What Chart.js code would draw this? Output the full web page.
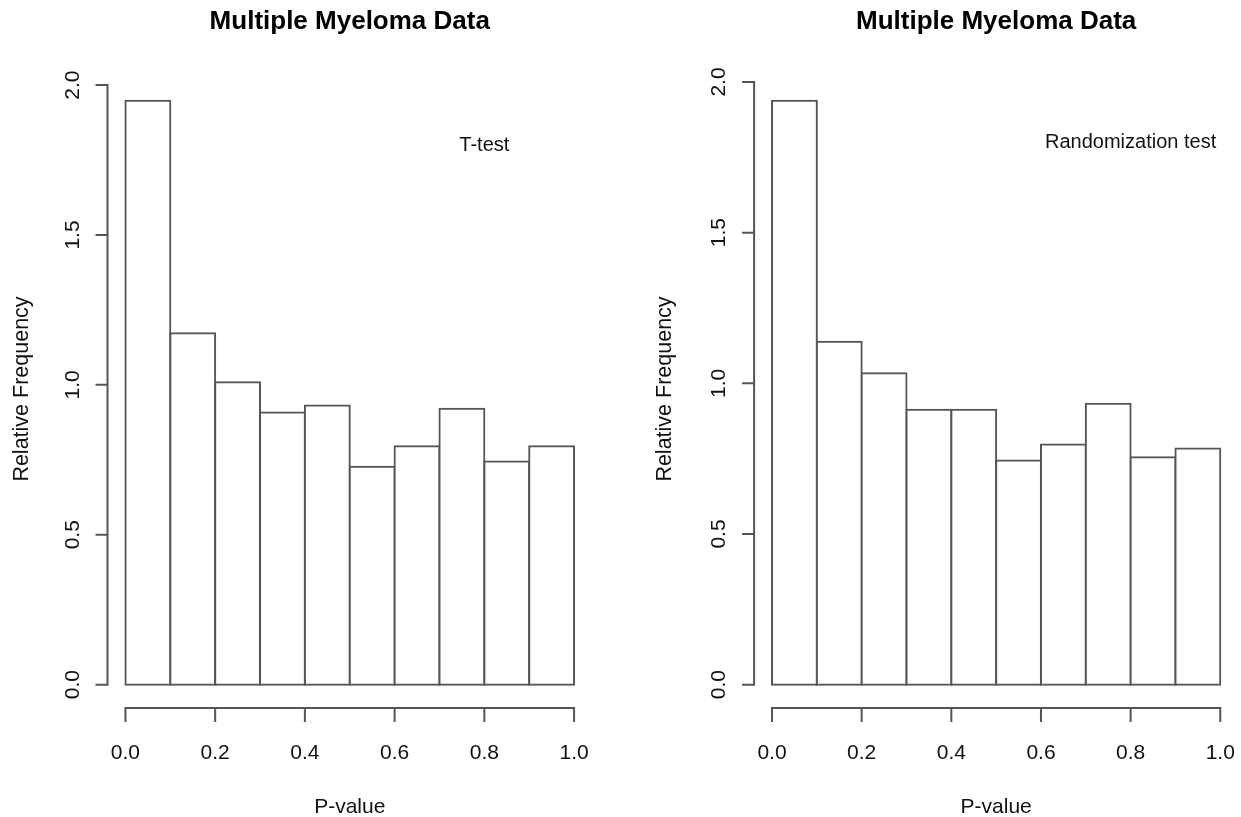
<!DOCTYPE html>
<html>
<head>
<meta charset="utf-8">
<title>Multiple Myeloma Data</title>
<script src="https://cdn.jsdelivr.net/npm/chart.js@4.4.1/dist/chart.umd.min.js"></script>
<style>
  html, body { margin: 0; padding: 0; background: #ffffff; }
  #wrap { position: relative; width: 1241px; height: 817px; overflow: hidden; }
  canvas { position: absolute; top: 0; }
</style>
</head>
<body>
<div id="wrap">
  <canvas id="left" width="620" height="817" style="left:0"></canvas>
  <canvas id="right" width="621" height="817" style="left:620px"></canvas>
</div>
<script>
// Histogram bins of p-values (width 0.1), bin midpoints
const binCenters = [0.05, 0.15, 0.25, 0.35, 0.45, 0.55, 0.65, 0.75, 0.85, 0.95];

// Relative frequency (density) per bin
const tTestDensity = [1.948, 1.172, 1.009, 0.908, 0.931, 0.727, 0.795, 0.920, 0.744, 0.795];
const randomizationDensity = [1.938, 1.138, 1.033, 0.912, 0.912, 0.744, 0.797, 0.932, 0.755, 0.784];

// Axis ticks
const xTickValues = [0, 0.2, 0.4, 0.6, 0.8, 1.0];
const xTickLabels = ['0.0', '0.2', '0.4', '0.6', '0.8', '1.0'];
const yTickValues = [0, 0.5, 1.0, 1.5, 2.0];
const yTickLabels = ['0.0', '0.5', '1.0', '1.5', '2.0'];

// Texts
const mainTitle = 'Multiple Myeloma Data';
const xTitle = 'P-value';
const yTitle = 'Relative Frequency';
const leftNote = 'T-test';
const rightNote = 'Randomization test';
const notePosition = [0.8, 1.8];

const LINE = '#555555';
const TEXT = '#111111';
const FONT = '"Liberation Sans", Arial, Helvetica, sans-serif';

// Base-graphics style axes: detached from the bars, spanning first..last tick
const rAxesPlugin = {
  id: 'rAxes',
  afterDraw(chart, args, opts) {
    const { ctx, chartArea: a, scales: { x, y } } = chart;
    ctx.save();
    ctx.strokeStyle = LINE;
    ctx.lineWidth = 2;
    ctx.lineCap = 'butt';

    // x axis
    const yb = a.bottom;
    ctx.beginPath();
    ctx.moveTo(x.getPixelForValue(xTickValues[0]) - 1, yb);
    ctx.lineTo(x.getPixelForValue(xTickValues[xTickValues.length - 1]) + 1, yb);
    xTickValues.forEach(v => {
      const px = x.getPixelForValue(v);
      ctx.moveTo(px, yb);
      ctx.lineTo(px, yb + 14);
    });
    // y axis
    const xl = a.left;
    ctx.moveTo(xl, y.getPixelForValue(yTickValues[0]) + 1);
    ctx.lineTo(xl, y.getPixelForValue(yTickValues[yTickValues.length - 1]) - 1);
    yTickValues.forEach(v => {
      const py = y.getPixelForValue(v);
      ctx.moveTo(xl, py);
      ctx.lineTo(xl - 12, py);
    });
    ctx.stroke();

    ctx.fillStyle = TEXT;
    // x tick labels
    ctx.font = '21px ' + FONT;
    ctx.textAlign = 'center';
    ctx.textBaseline = 'middle';
    xTickValues.forEach((v, i) => {
      ctx.fillText(xTickLabels[i], x.getPixelForValue(v), yb + 45.5);
    });
    // y tick labels, rotated
    yTickValues.forEach((v, i) => {
      ctx.save();
      ctx.translate(xl - 34.5, y.getPixelForValue(v));
      ctx.rotate(-Math.PI / 2);
      ctx.fillText(yTickLabels[i], 0, 0);
      ctx.restore();
    });

    const cx = (a.left + a.right) / 2;
    const cy = (a.top + a.bottom) / 2;
    // x axis title
    ctx.font = '21px ' + FONT;
    ctx.fillText(xTitle, cx, yb + 99);
    // y axis title
    ctx.save();
    ctx.font = '21.5px ' + FONT;
    ctx.translate(xl - opts.yTitleOffset, 389);
    ctx.rotate(-Math.PI / 2);
    ctx.fillText(yTitle, 0, 0);
    ctx.restore();

    // main title
    ctx.font = 'bold 26px ' + FONT;
    ctx.fillStyle = '#000000';
    ctx.fillText(mainTitle, cx, 22);

    // in-plot note
    ctx.font = '20px ' + FONT;
    ctx.fillStyle = TEXT;
    ctx.fillText(opts.note, x.getPixelForValue(notePosition[0]), y.getPixelForValue(notePosition[1]));
    ctx.restore();
  }
};

function makeHistogram(canvasId, density, padding, note, yTitleOffset) {
  const yMax = Math.max(...density);
  return new Chart(document.getElementById(canvasId), {
    type: 'bar',
    data: {
      datasets: [{
        data: binCenters.map((c, i) => ({ x: c, y: density[i] })),
        backgroundColor: '#ffffff',
        borderColor: LINE,
        borderWidth: 2,
        borderSkipped: false,
        inflateAmount: 1,
        barPercentage: 1,
        categoryPercentage: 1
      }]
    },
    options: {
      responsive: false,
      devicePixelRatio: 1,
      animation: false,
      events: [],
      layout: { padding },
      plugins: {
        legend: { display: false },
        tooltip: { enabled: false },
        title: { display: false },
        rAxes: { note, yTitleOffset }
      },
      scales: {
        x: {
          type: 'linear',
          display: false,
          offset: false,
          grid: { offset: false },
          min: -0.04,
          max: 1.04,
          ticks: { stepSize: 0.2, includeBounds: false }
        },
        y: {
          type: 'linear',
          display: false,
          min: -0.04 * yMax,
          max: 1.04 * yMax,
          ticks: { stepSize: 0.5, includeBounds: false }
        }
      }
    },
    plugins: [rAxesPlugin]
  });
}

makeHistogram('left', tTestDensity,
  { left: 107.5, right: 28, top: 77.3, bottom: 109 }, leftNote, 85);
makeHistogram('right', randomizationDensity,
  { left: 134.1, right: 2.8, top: 77.3, bottom: 109 }, rightNote, 89.1);
</script>
</body>
</html>
